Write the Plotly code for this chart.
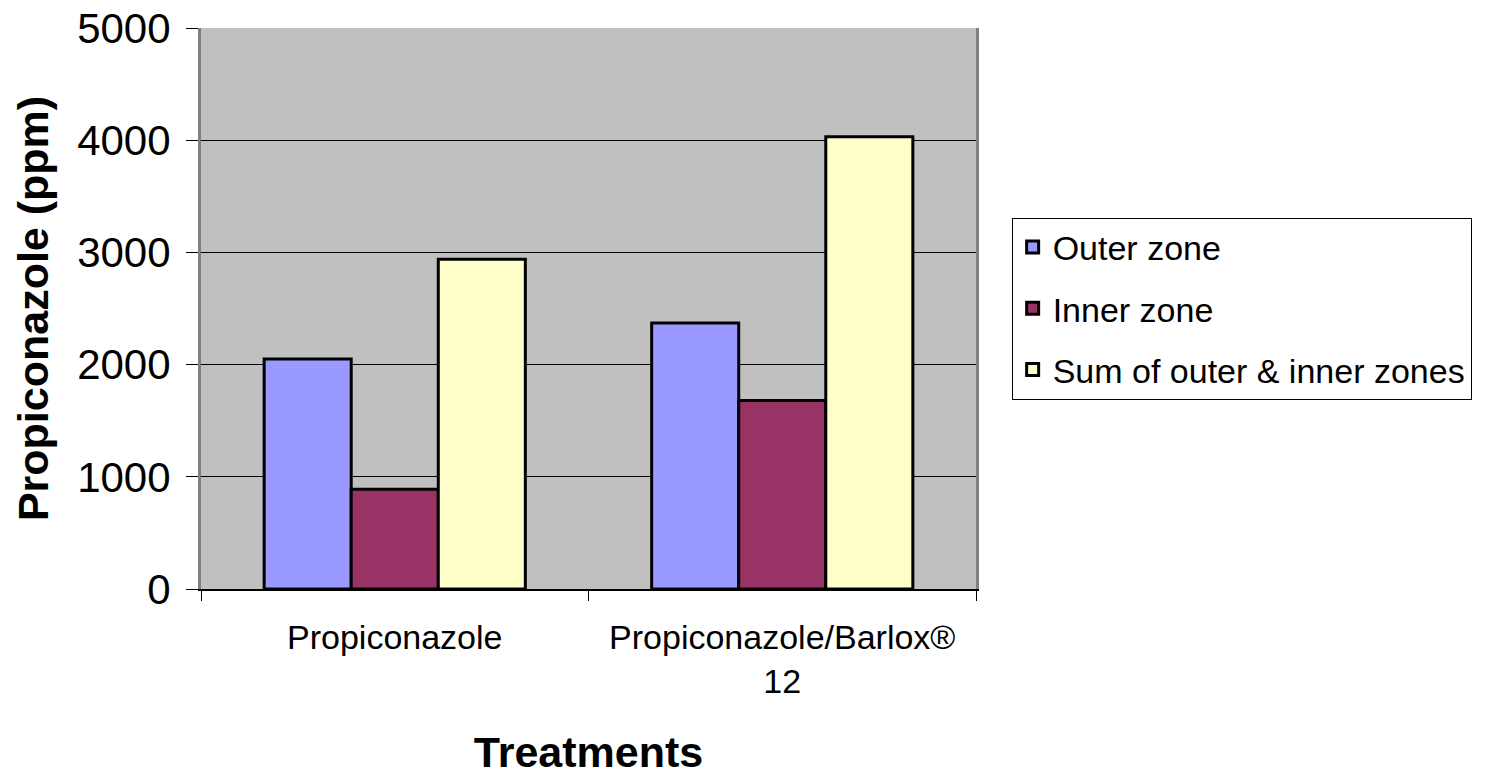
import plotly.graph_objects as go

categories = ["Propiconazole", "Propiconazole/Barlox®<br>12"]
outer_zone = [2050, 2370]
inner_zone = [890, 1680]
sum_zones = [2940, 4030]
series_names = ["Outer zone", "Inner zone", "Sum of outer & inner zones"]
colors = ["#9999FF", "#993366", "#FFFFCC"]

fig = go.Figure()
for i, (name, vals, col) in enumerate(zip(series_names, [outer_zone, inner_zone, sum_zones], colors)):
    fig.add_trace(go.Bar(
        x=categories, y=vals, name=name, legendgroup=f"g{i}",
        marker=dict(color=col, line=dict(color="black", width=3)),
    ))

font = "Liberation Sans, Arial, sans-serif"
fig.update_layout(
    width=1489, height=776,
    margin=dict(l=201, r=513, t=28, b=187, autoexpand=False),
    paper_bgcolor="white", plot_bgcolor="#C0C0C0",
    barmode="group", bargap=0.326, bargroupgap=0,
    font=dict(family=font, color="black"),
    legend=dict(
        x=1.046, xanchor="left", y=0.5, yanchor="middle",
        bordercolor="black", borderwidth=1, bgcolor="white",
        font=dict(size=34, family=font), tracegroupgap=14,
        traceorder="grouped",
    ),
    showlegend=True,
)
fig.update_xaxes(
    type="category", tickson="boundaries", ticks="outside", ticklen=10,
    tickcolor="black", tickwidth=1, automargin=False,
    showline=True, linecolor="black", linewidth=2, mirror=False,
    showgrid=False, tickfont=dict(size=34, family=font),
    ticklabelstandoff=17,
    title=dict(text="<b>Treatments</b>", font=dict(size=43, family=font), standoff=47),
)
fig.update_yaxes(
    range=[0, 5000], dtick=1000, ticks="outside", ticklen=12,
    tickcolor="black", tickwidth=1, automargin=False,
    showline=True, linecolor="#808080", linewidth=3, mirror=True,
    showgrid=True, gridcolor="black", gridwidth=1, zeroline=False,
    tickfont=dict(size=42, family=font), ticklabelstandoff=7,
    title=dict(text="<b>Propiconazole (ppm)</b>", font=dict(size=43, family=font), standoff=16),
)
fig.write_html("out.html", config={"displayModeBar": False},
               post_script="document.body.style.margin='0';")
